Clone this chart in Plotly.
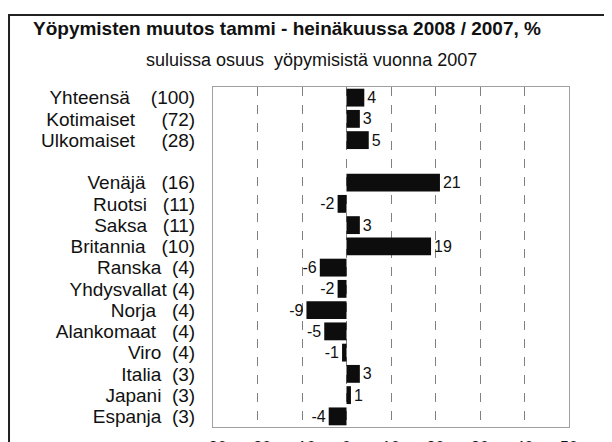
import plotly.graph_objects as go

categories = ["Yhteensä", "Kotimaiset", "Ulkomaiset", "",
              "Venäjä", "Ruotsi", "Saksa", "Britannia", "Ranska", "Yhdysvallat",
              "Norja", "Alankomaat", "Viro", "Italia", "Japani", "Espanja"]
shares = ["100", "72", "28", "",
          "16", "11", "11", "10", "4", "4", "4", "4", "4", "3", "3", "3"]
values = [4, 3, 5, None, 21, -2, 3, 19, -6, -2, -9, -5, -1, 3, 1, -4]

# styling: spaces between name and share in the left labels
label_gap = [4, 5, 5, 0, 3, 3, 3, 3, 2, 1, 3, 3, 2, 2, 2, 2]

positions = list(range(len(categories)))
NB = "\u00a0"
ticktext = [(f"{c}{NB * g}({s})" if c else "") for c, s, g in zip(categories, shares, label_gap)]
texts = ["" if v is None else str(v) for v in values]

FONT = "Liberation Sans, Arial, sans-serif"

fig = go.Figure(go.Bar(
    x=values, y=positions, orientation="h",
    marker=dict(color="#0d0d0d", line=dict(width=0)),
    width=0.84,
    text=texts, textposition="outside", cliponaxis=False,
    textfont=dict(family=FONT, size=16, color="#111111"),
))

# page body has an 8px margin, so the figure is shifted by 8px
fig.update_layout(
    width=604, height=442,
    margin=dict(l=205, r=43, t=79, b=23, autoexpand=False),
    paper_bgcolor="white", plot_bgcolor="white",
    font=dict(family=FONT, color="#111111"),
    showlegend=False,
    xaxis=dict(range=[-30, 50], dtick=10, showgrid=True, gridcolor="#808080",
               griddash="dash", gridwidth=1, zeroline=False, automargin=False,
               showline=True, linecolor="#a0a0a0", linewidth=1, mirror=True,
               tickfont=dict(size=16, family=FONT), ticks="", ticklabelstandoff=6),
    yaxis=dict(range=[15.5, -0.5], tickvals=positions, ticktext=ticktext,
               showgrid=False, zeroline=False, showline=True, linecolor="#a0a0a0",
               linewidth=1, mirror=True, ticks="", automargin=False,
               tickfont=dict(size=19, family=FONT), ticklabelstandoff=13),
    shapes=[dict(type="rect", xref="paper", yref="paper",
                 x0=-0.5730, x1=1.1152, y0=-0.3, y1=1.2118,
                 line=dict(color="#222222", width=2), fillcolor="rgba(0,0,0,0)",
                 layer="below")],
    annotations=[
        dict(text="<b>Yöpymisten muutos tammi - heinäkuussa 2008 / 2007, %</b>",
             xref="paper", yref="paper", x=-0.5112, y=1.1706, xanchor="left", yanchor="middle",
             showarrow=False, font=dict(size=19, family=FONT, color="#111111")),
        dict(text="suluissa osuus  yöpymisistä vuonna 2007",
             xref="paper", yref="paper", x=0.278, y=1.079, xanchor="center", yanchor="middle",
             showarrow=False, font=dict(size=18, family=FONT, color="#111111")),
    ],
)

fig.write_html("out.html")
